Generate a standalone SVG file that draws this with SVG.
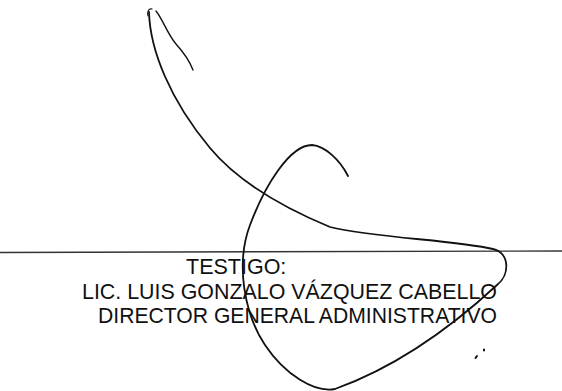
<svg xmlns="http://www.w3.org/2000/svg" width="562" height="391" viewBox="0 0 562 391">
<style>
.t{font-family:"Liberation Sans",Arial,sans-serif;font-size:21.5px;fill:#111}
.sig{fill:none;stroke:#111;stroke-linecap:round;stroke-linejoin:round}
</style>
<rect width="562" height="391" fill="#fff"/>
<g id="rule"><line x1="0" y1="252.5" x2="562" y2="251" stroke="#333" stroke-width="1.4"/></g>
<g id="text">
<text class="t" x="186" y="274">TESTIGO:</text>
<text class="t" x="82" y="298.5" textLength="415" lengthAdjust="spacingAndGlyphs">LIC. LUIS GONZALO VÁZQUEZ CABELLO</text>
<text class="t" x="98" y="323" textLength="399" lengthAdjust="spacingAndGlyphs">DIRECTOR GENERAL ADMINISTRATIVO</text>
</g>
<g id="signature">
<path class="sig" stroke-width="1.8" d="M149,12 C150,50 170,100 210,148 C230,172 265,200 330,227 C375,238 455,240 493,249 C510,253 510,275 497,285 C470,310 410,362 335,389 C315,393 285,375 265,345 C245,315 235,265 250,225 C265,185 290,145 312,145 C325,146 340,160 348,176"/>
<path class="sig" stroke-width="1.4" d="M156,11 C162,18 168,35 176,44 C185,54 190,62 193,70"/>
<path class="sig" stroke-width="1.2" d="M148,16 C147,11 149,8 152,9"/>
<path class="sig" stroke-width="2" d="M475.5,358 L477,356 M484,350.5 L484,349.5"/>
</g>
</svg>
